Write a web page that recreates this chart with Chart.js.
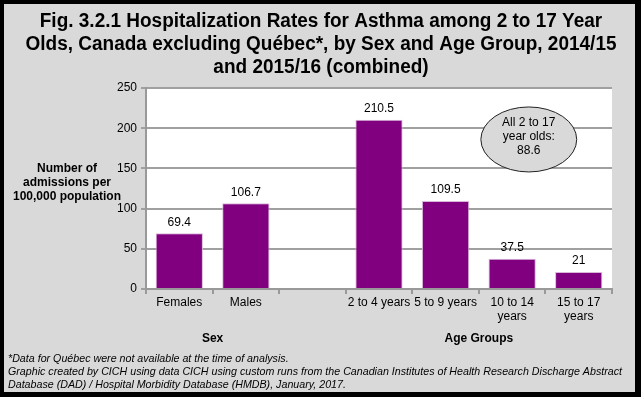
<!DOCTYPE html>
<html>
<head>
<meta charset="utf-8">
<script src="https://cdn.jsdelivr.net/npm/chart.js@4"></script>
<style>
html, body { margin: 0; padding: 0; background: #000; }
</style>
</head>
<body>
<canvas id="myChart" width="641" height="397"></canvas>
<script>
"use strict";

var categories = ['Females', 'Males', '', '2 to 4 years', '5 to 9 years', ['10 to 14', 'years'], ['15 to 17', 'years']];
var rates = [69.4, 106.7, null, 210.5, 109.5, 37.5, 21];
var yTicks = [0, 50, 100, 150, 200, 250];
var groupNames = ['Sex', 'Age Groups'];
var titleLines = [
	'Fig. 3.2.1 Hospitalization Rates for Asthma among 2 to 17 Year',
	'Olds, Canada excluding Québec*, by Sex and Age Group, 2014/15',
	'and 2015/16 (combined)'
];
var yTitleLines = ['Number of', 'admissions per', '100,000 population'];
var allAgesLines = ['All 2 to 17', 'year olds:', '88.6'];
var noteLines = [
	'*Data for Québec were not available at the time of analysis.',
	'Graphic created by CICH using data CICH using custom runs from the Canadian Institutes of Health Research Discharge Abstract',
	'Database (DAD) / Hospital Morbidity Database (HMDB), January, 2017.'
];

var SANS = "'Liberation Sans', Arial, sans-serif";
var NARROW = "'Liberation Sans Narrow', 'Arial Narrow', 'Liberation Sans', Arial, sans-serif";

// draw lines squeezed horizontally so the widest reference line fits its width
function drawSqueezed(ctx, lines, font, refIndex, refWidth, x, y0, step, align) {
	ctx.save();
	ctx.font = font;
	var k = Math.min(1, refWidth / ctx.measureText(lines[refIndex]).width);
	ctx.textAlign = align;
	ctx.textBaseline = 'alphabetic';
	lines.forEach(function (line, i) {
		ctx.save();
		ctx.translate(x, y0 + i * step);
		ctx.scale(k, 1);
		ctx.fillText(line, 0, 0);
		ctx.restore();
	});
	ctx.restore();
}

/*******************
   BACKGROUND
*******************/

var background = {
	id: 'background',
	beforeDraw: function (chart) {
		var ctx = chart.ctx, a = chart.chartArea;
		ctx.save();
		ctx.fillStyle = '#000';
		ctx.fillRect(0, 0, chart.width, chart.height);
		ctx.fillStyle = '#d9d9d9';
		ctx.fillRect(4, 4, 631, 388);
		ctx.fillStyle = '#fff';
		ctx.fillRect(a.left, a.top, a.right - a.left, a.bottom - a.top);
		ctx.restore();
	}
};

/*******************
   TEXT AND NOTES
*******************/

var annotations = {
	id: 'annotations',
	afterDraw: function (chart) {
		var ctx = chart.ctx, a = chart.chartArea;
		var xs = chart.scales.x, ys = chart.scales.y;
		var meta = chart.getDatasetMeta(0);
		var cw = xs.getPixelForValue(1) - xs.getPixelForValue(0);

		ctx.save();
		ctx.fillStyle = '#000';

		// value labels
		ctx.font = '12px ' + SANS;
		ctx.textAlign = 'center';
		ctx.textBaseline = 'middle';
		meta.data.forEach(function (bar, i) {
			if (rates[i] == null) return;
			ctx.fillText(String(rates[i]), bar.x, bar.y - 11);
		});

		// group labels
		ctx.font = 'bold 12px ' + SANS;
		var gy = a.bottom + 50;
		ctx.fillText(groupNames[0], (xs.getPixelForValue(0) + xs.getPixelForValue(1)) / 2, gy);
		ctx.fillText(groupNames[1], (xs.getPixelForValue(4) + xs.getPixelForValue(5)) / 2, gy);

		// y axis title
		yTitleLines.forEach(function (line, i) {
			ctx.fillText(line, 67, 169 + i * 14);
		});

		// all ages bubble
		var cx = xs.getPixelForValue(5) + 0.25 * cw;
		var cy = ys.getPixelForValue(186);
		ctx.beginPath();
		ctx.ellipse(cx, cy, 0.72 * cw, 32.5, 0, 0, Math.PI * 2);
		ctx.fillStyle = '#d9d9d9';
		ctx.fill();
		ctx.lineWidth = 1;
		ctx.strokeStyle = '#222';
		ctx.stroke();
		ctx.fillStyle = '#000';
		ctx.font = '12px ' + SANS;
		allAgesLines.forEach(function (line, i) {
			ctx.fillText(line, cx, cy - 17 + i * 14);
		});
		ctx.restore();

		// title and footnote
		drawSqueezed(ctx, titleLines, 'bold 20px ' + NARROW, 1, 591, 321, 27, 23, 'center');
		ctx.save();
		ctx.fillStyle = '#000';
		drawSqueezed(ctx, noteLines, 'italic 11px ' + NARROW, 1, 614, 8, 362, 13, 'left');
		ctx.restore();
	}
};

/*******************
      CHART
*******************/

var ctx = document.getElementById('myChart');

var barChart = new Chart(ctx, {
	type: 'bar',
	data: {
		labels: categories,
		datasets: [{
			data: rates,
			backgroundColor: '#800080',
			borderColor: '#d9b8d9',
			borderWidth: 1,
			barPercentage: 0.71,
			categoryPercentage: 1
		}]
	},
	options: {
		responsive: false,
		devicePixelRatio: 1,
		animation: false,
		layout: { padding: { top: 88, right: 29, left: 0, bottom: 0 } },
		plugins: {
			title: { display: false },
			legend: { display: false },
			tooltip: { enabled: false }
		},
		scales: {
			x: {
				grid: { offset: true, drawOnChartArea: false, color: '#999', lineWidth: 2, tickLength: 5 },
				border: { color: '#999', width: 2 },
				ticks: {
					color: '#000',
					font: { family: SANS, size: 12, lineHeight: 1.17 },
					padding: 2,
					maxRotation: 0,
					autoSkip: false
				},
				afterFit: function (s) { s.height = 108; }
			},
			y: {
				min: 0,
				max: 250,
				afterBuildTicks: function (s) {
					s.ticks = yTicks.map(function (v) { return { value: v }; });
				},
				grid: { color: '#a0a0a0', lineWidth: 2, tickLength: 5 },
				border: { color: '#999', width: 2 },
				ticks: {
					color: '#000',
					font: { family: SANS, size: 12 },
					padding: 4
				},
				afterFit: function (s) { s.width = 146; }
			}
		}
	},
	plugins: [background, annotations]
});
</script>
</body>
</html>
